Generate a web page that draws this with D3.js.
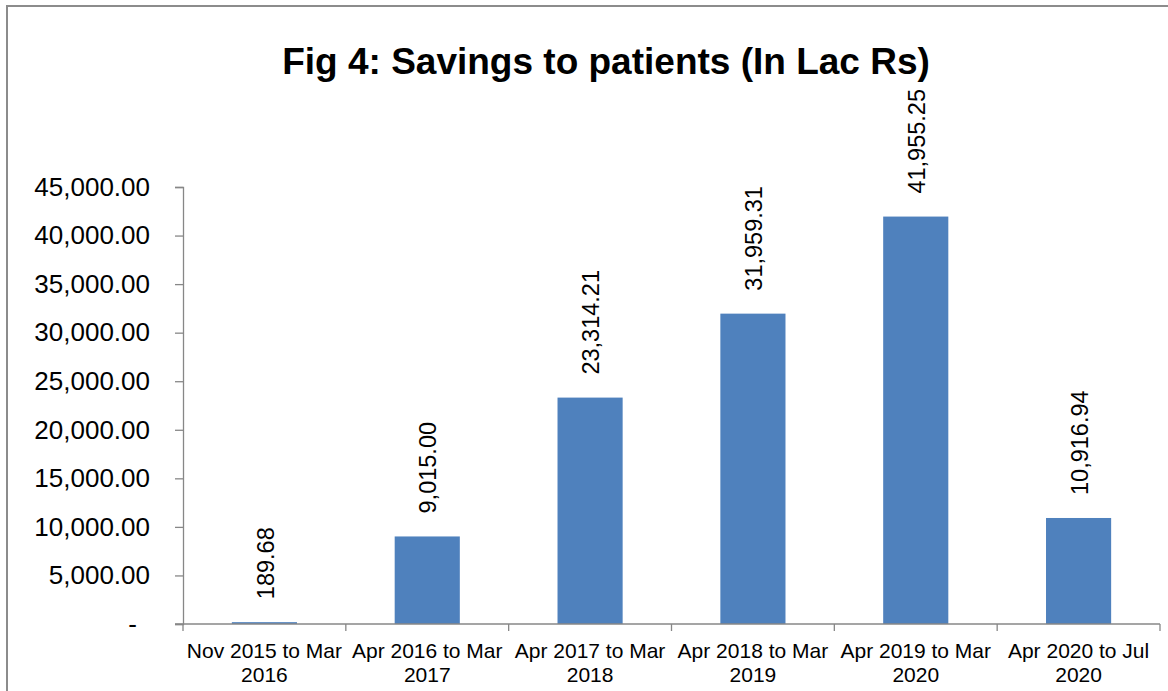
<!DOCTYPE html>
<html>
<head>
<meta charset="utf-8">
<script src="https://cdn.jsdelivr.net/npm/d3@7/dist/d3.min.js"></script>
<style>
  html, body { margin: 0; padding: 0; background: #fff; }
  svg { display: block; font-family: "Liberation Sans", Arial, sans-serif; }
</style>
</head>
<body>
<svg id="chart" width="1168" height="691"></svg>
<script>
const title = "Fig 4: Savings to patients (In Lac Rs)";
const categories = [
  "Nov 2015 to Mar 2016",
  "Apr 2016 to Mar 2017",
  "Apr 2017 to Mar 2018",
  "Apr 2018 to Mar 2019",
  "Apr 2019 to Mar 2020",
  "Apr 2020 to Jul 2020"
];
const values = [189.68, 9015.00, 23314.21, 31959.31, 41955.25, 10916.94];
const yTicks = [0, 5000, 10000, 15000, 20000, 25000, 30000, 35000, 40000, 45000];

(function () {
const svg = d3.select("#chart");
const W = 1168, H = 691;
const mLeft = 183, mRight = 1160, mTop = 187, mBottom = 624;

// outer border
svg.append("rect")
  .attr("x", 7).attr("y", 6)
  .attr("width", W + 20).attr("height", H + 20)
  .attr("fill", "none").attr("stroke", "#8c8c8c").attr("stroke-width", 2);

// title
svg.append("text")
  .attr("x", 606).attr("y", 74)
  .attr("text-anchor", "middle")
  .attr("font-size", 37).attr("font-weight", "bold")
  .attr("fill", "#000")
  .text(title);

const x = d3.scaleBand().domain(categories).range([mLeft, mRight])
  .paddingInner(0.6).paddingOuter(0.3);
const y = d3.scaleLinear().domain([0, 45000]).range([mBottom, mTop]);

// y axis
const fmt = d3.format(",.2f");
const yAxis = d3.axisLeft(y).tickValues(yTicks).tickSize(8).tickPadding(25)
  .tickFormat(d => d === 0 ? "-" : fmt(d));
const yg = svg.append("g").attr("transform", `translate(${mLeft},0)`).call(yAxis);
yg.select(".domain").attr("stroke", "#878787").attr("stroke-width", 1.3);
yg.selectAll(".tick line").attr("stroke", "#878787").attr("stroke-width", 1.3);
yg.selectAll(".tick text")
  .attr("font-size", 26).attr("fill", "#000")
  .attr("font-family", "Liberation Sans, Arial, sans-serif")
  .attr("dx", d => d === 0 ? -13 : 0);

// bars
svg.append("g").selectAll("rect").data(values).join("rect")
  .attr("x", (d, i) => x(categories[i]))
  .attr("width", x.bandwidth())
  .attr("y", d => y(d))
  .attr("height", d => y(0) - y(d))
  .attr("fill", "#4f81bd");

// x axis line and boundary ticks
const step = x.step();
const boundaries = categories.map(c => x(c) - step * x.paddingOuter());
boundaries.push(mRight);
svg.append("line")
  .attr("x1", mLeft - 8).attr("x2", mRight)
  .attr("y1", y(0)).attr("y2", y(0))
  .attr("stroke", "#878787").attr("stroke-width", 1.3);
svg.append("g").selectAll("line").data(boundaries).join("line")
  .attr("x1", d => d).attr("x2", d => d)
  .attr("y1", y(0)).attr("y2", y(0) + 7)
  .attr("stroke", "#878787").attr("stroke-width", 1.3);

// category labels (two lines)
const lab = svg.append("g").selectAll("text").data(categories).join("text")
  .attr("text-anchor", "middle")
  .attr("font-size", 21).attr("fill", "#000");
lab.each(function(c) {
  const k = c.lastIndexOf(" ");
  const cx = x(c) + x.bandwidth() / 2;
  const t = d3.select(this);
  t.append("tspan").attr("x", cx).attr("y", 658).text(c.slice(0, k));
  t.append("tspan").attr("x", cx).attr("y", 681.5).text(c.slice(k + 1));
});

// data labels (rotated)
svg.append("g").selectAll("text").data(values).join("text")
  .attr("transform", (d, i) => `translate(${x(categories[i]) + x.bandwidth() / 2 + 1},${y(d) - 23}) rotate(-90)`)
  .attr("text-anchor", "start")
  .attr("dy", "0.35em")
  .attr("font-size", 23.5).attr("fill", "#000")
  .text(d => fmt(d));
})();
</script>
</body>
</html>
